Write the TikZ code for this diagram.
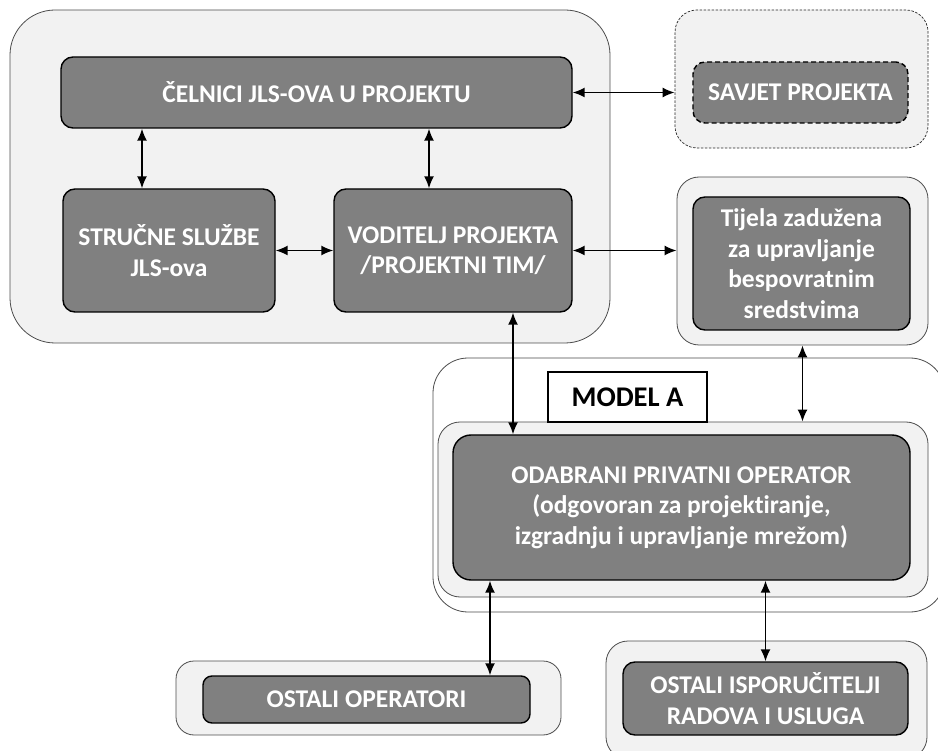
\documentclass[tikz,border=0pt]{standalone}
\usepackage{fontspec}
\setmainfont{Carlito}[Ligatures=NoCommon]
\usetikzlibrary{arrows.meta}

\tikzset{
	group/.style={draw=black!70, line width=0.8pt, fill=black!5, rounded corners=18pt},
	darkbox/.style={draw=black, line width=1.4pt, fill=black!50, rounded corners=12pt,
		text=white, align=center, inner sep=0pt,
		font=\fontsize{25.5}{30.5}\selectfont\bfseries},
	link/.style={{Latex[length=12pt,width=10pt]}-{Latex[length=12pt,width=10pt]}, line width=1.6pt}
}

\begin{document}
\begin{tikzpicture}[x=1pt,y=-1pt]

		\useasboundingbox (0,0) rectangle (938,751);
		\clip (0,0) rectangle (938,751);

		\node (gjls) at (310,176.5) [group, rounded corners=45pt, minimum width=600pt, minimum height=333pt] {};
		\node (celnici) at (316.5,92.5) [darkbox, minimum width=511pt, minimum height=71pt] {ČELNICI JLS-OVA U PROJEKTU};
		\node (strucne) at (169,250.5) [darkbox, minimum width=212pt, minimum height=123pt] {STRUČNE SLUŽBE\\JLS-ova};
		\node (voditelj) at (453,250.5) [darkbox, minimum width=238pt, minimum height=123pt] {VODITELJ PROJEKTA\\/PROJEKTNI TIM/};

		\node (gsavjet) at (801.5,79) [group, draw=black!85, dash pattern=on 2.5pt off 1.5pt, line width=0.7pt, rounded corners=22pt, minimum width=253pt, minimum height=138pt] {};
		\node (savjet) at (800.5,92.5) [darkbox, dash pattern=on 5pt off 3pt, minimum width=215pt, minimum height=61pt] {SAVJET PROJEKTA};

		\node (gtijela) at (802.5,261) [group, rounded corners=22pt, minimum width=251pt, minimum height=168pt] {};
		\node (tijela) at (801.5,263.5) [darkbox, minimum width=217pt, minimum height=133pt] {Tijela zadužena\\za upravljanje\\bespovratnim\\sredstvima};

		\node (gmodel) at (689,485) [group, fill=white, rounded corners=35pt, minimum width=512pt, minimum height=254pt] {};
		\node (gprivatni) at (683,509.5) [group, rounded corners=22pt, minimum width=490pt, minimum height=175pt] {};
		\node (privatni) at (681.5,507.5) [darkbox, rounded corners=18pt, minimum width=457pt, minimum height=145pt] {ODABRANI PRIVATNI OPERATOR\\(odgovoran za projektiranje,\\izgradnju i upravljanje mrežom)};
		\node (modela) at (627.5,397) [draw, line width=1.2pt, fill=white, minimum width=159pt, minimum height=50pt,
		font=\fontsize{28.5}{30}\selectfont\bfseries] {MODEL A};

		\node (goperatori) at (368.5,698) [group, minimum width=385pt, minimum height=74pt] {};
		\node (operatori) at (366.5,699.5) [darkbox, rounded corners=9pt, minimum width=327pt, minimum height=47pt] {OSTALI OPERATORI};

		\node (gisporucitelji) at (766.5,700) [group, rounded corners=22pt, minimum width=321pt, minimum height=118pt] {};
		\node (isporucitelji) at (765.5,698.5) [darkbox, minimum width=285pt, minimum height=73pt] {OSTALI ISPORUČITELJI\\RADOVA I USLUGA};

		\draw [link] ([xshift=-27pt]strucne.north |- celnici.south) -- ([xshift=-27pt]strucne.north);
		\draw [link] ([xshift=-24pt]voditelj.north |- celnici.south) -- ([xshift=-24pt]voditelj.north);
		\draw [link] (strucne.east) -- (voditelj.west);
		\draw [link] (celnici.east) -- (celnici.east -| gsavjet.west);
		\draw [link] (voditelj.east) -- (voditelj.east -| gtijela.west);
		\draw [link] ([xshift=60pt]voditelj.south) -- ([xshift=60pt]voditelj.south |- privatni.north);
		\draw [link] (gtijela.south) -- (gtijela.south |- gprivatni.north);
		\draw [link] ([xshift=-191.5pt]privatni.south) -- ([xshift=-191.5pt]privatni.south |- operatori.north);
		\draw [link] (privatni.south -| isporucitelji.north) -- (isporucitelji.north);

\end{tikzpicture}
\end{document}
